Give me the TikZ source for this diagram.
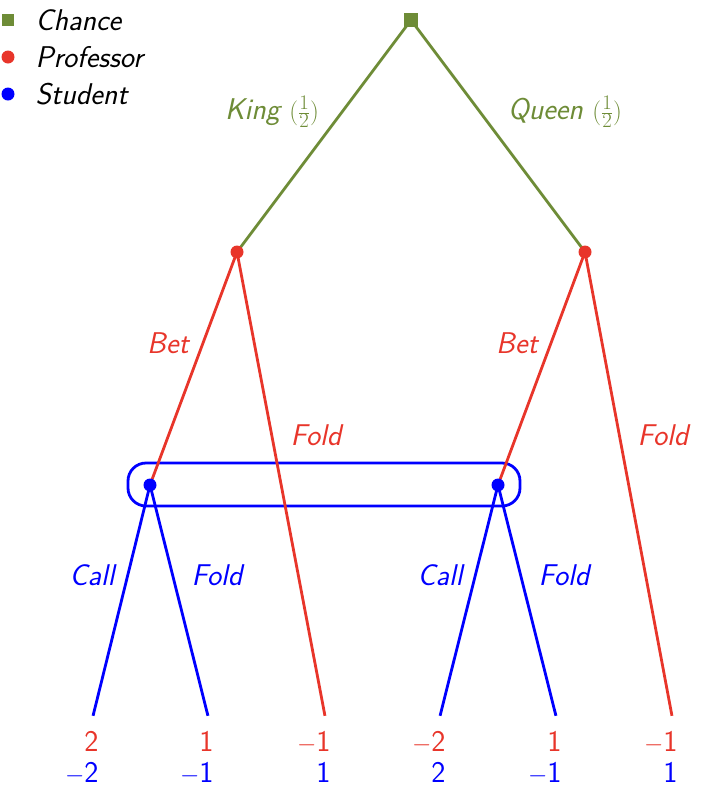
\documentclass[tikz,border=0pt]{standalone}
\usepackage{fontspec}
\usepackage{tikz}
\definecolor{cg}{RGB}{110,140,55}
\definecolor{cr}{RGB}{232,53,42}
\definecolor{cb}{RGB}{0,0,255}
\begin{document}
\begin{tikzpicture}[x=1pt,y=-1pt,
  lab/.style={font=\fontsize{30}{34}\selectfont\sffamily\itshape},
  pay/.style={font=\fontsize{30}{34}\selectfont\sffamily},
  dot/.style={circle,fill=#1,inner sep=0pt,minimum size=13pt},
  pt/.style={inner sep=0pt,minimum size=0pt},
  ed/.style={draw=#1,line width=2.8pt}]
\useasboundingbox (0,0) rectangle (714,804);
% legend
\node[fill=cg,inner sep=0pt,minimum size=12pt] (l1) at (8,20) {};
\node[lab,anchor=west] (t1) at (32,20) {Chance};
\node[dot=cr] (l2) at (8,57) {};
\node[lab,anchor=west] (t2) at (32,57) {Professor};
\node[dot=cb] (l3) at (8,94) {};
\node[lab,anchor=west] (t3) at (32,94) {Student};
% nodes
\node[pt] (r) at (411,20) {};
\node[pt] (k) at (237,252) {};
\node[pt] (q) at (585,252) {};
\node[pt] (s1) at (150,485) {};
\node[pt] (s2) at (498,485) {};
\node[pt] (a1) at (93,716) {};
\node[pt] (a2) at (208,716) {};
\node[pt] (a3) at (325,716) {};
\node[pt] (a4) at (440,716) {};
\node[pt] (a5) at (556,716) {};
\node[pt] (a6) at (672,716) {};
% info set
\draw[cb,line width=2.8pt,rounded corners=18pt] (128,463) rectangle (520,506);
% edges
\draw[ed=cg] (r) -- (k);
\draw[ed=cg] (r) -- (q);
\draw[ed=cr] (k) -- (s1);
\draw[ed=cr] (k) -- (a3);
\draw[ed=cr] (q) -- (s2);
\draw[ed=cr] (q) -- (a6);
\draw[ed=cb] (s1) -- (a1);
\draw[ed=cb] (s1) -- (a2);
\draw[ed=cb] (s2) -- (a4);
\draw[ed=cb] (s2) -- (a5);
\node[fill=cg,inner sep=0pt,minimum size=14pt] at (r) {};
\node[dot=cr] at (k) {};
\node[dot=cr] at (q) {};
\node[dot=cb] at (s1) {};
\node[dot=cb] at (s2) {};
% labels
\node[lab,text=cg] (lk) at (272,112) {King $(\frac12)$};
\node[lab,text=cg] (lq) at (565,112) {Queen $(\frac12)$};
\node[lab,text=cr] (b1) at (168,343) {Bet};
\node[lab,text=cr] (b2) at (517,343) {Bet};
\node[lab,text=cr] (f1) at (316,435) {Fold};
\node[lab,text=cr] (f2) at (663,435) {Fold};
\node[lab,text=cb] (c1) at (92,575) {Call};
\node[lab,text=cb] (c2) at (440,575) {Call};
\node[lab,text=cb] (g1) at (217,575) {Fold};
\node[lab,text=cb] (g2) at (564,575) {Fold};
% payoffs
\foreach \x/\p/\s [count=\i] in {93/2/$-$2,208/1/$-$1,325/$-$1/1,440/$-$2/2,556/1/$-$1,672/$-$1/1}{
  \node[pay,text=cr,anchor=base east] (p\i) at (\x+9,751) {\p};
  \node[pay,text=cb,anchor=base east] (q\i) at (\x+9,782) {\s};
}
\end{tikzpicture}
\end{document}
